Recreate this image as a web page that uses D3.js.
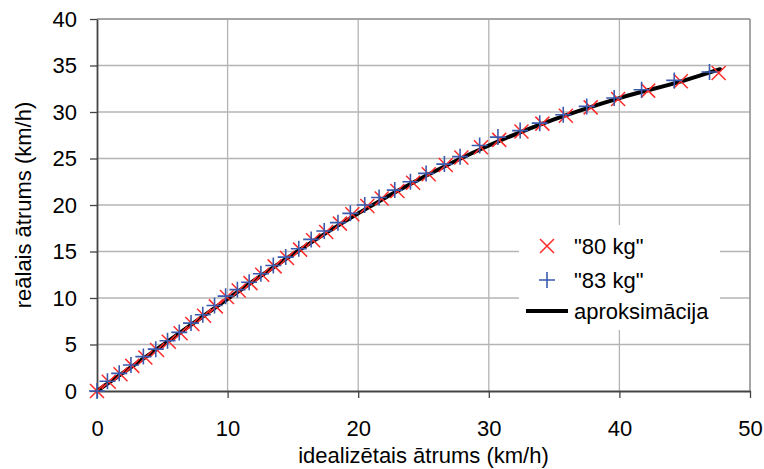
<!DOCTYPE html>
<html>
<head>
<meta charset="utf-8">
<script src="https://cdn.jsdelivr.net/npm/d3@7"></script>
<style>
  body { margin: 0; background: #fff; }
  svg text { font-family: "Liberation Sans", Arial, sans-serif; fill: #000; }
</style>
</head>
<body>
<svg id="chart" width="764" height="469"></svg>
<script>
// "80 kg" series: idealised speed vs real speed
const ideal80 = [0, 0.9, 1.8, 2.7, 3.7, 4.6, 5.5, 6.4, 7.3, 8.2, 9.1, 9.95, 10.85, 11.75, 12.65, 13.6, 14.55, 15.55, 16.55, 17.55, 18.6, 19.55, 20.7, 21.8, 23.0, 24.2, 25.4, 26.7, 27.9, 29.4, 30.8, 32.5, 34.1, 35.9, 37.8, 39.9, 42.2, 44.7, 47.6];
const real80  = [0, 1.0, 1.8, 2.7, 3.6, 4.4, 5.3, 6.2, 7.2, 8.1, 9.1, 10.1, 10.8, 11.6, 12.5, 13.4, 14.3, 15.2, 16.2, 17.1, 18.0, 19.0, 19.9, 20.7, 21.5, 22.4, 23.3, 24.3, 25.1, 26.2, 27.0, 27.9, 28.75, 29.6, 30.5, 31.4, 32.3, 33.3, 34.2];
// "83 kg" series
const ideal83 = [0, 0.8, 1.7, 2.6, 3.55, 4.5, 5.4, 6.3, 7.2, 8.1, 9.0, 9.85, 10.75, 11.65, 12.55, 13.5, 14.45, 15.45, 16.4, 17.4, 18.45, 19.4, 20.5, 21.6, 22.8, 24.0, 25.2, 26.6, 27.8, 29.3, 30.7, 32.4, 33.9, 35.7, 37.5, 39.6, 41.7, 44.2, 46.9];
const real83  = [0, 1.05, 1.9, 2.8, 3.7, 4.5, 5.4, 6.3, 7.3, 8.2, 9.2, 10.2, 10.9, 11.7, 12.6, 13.5, 14.4, 15.3, 16.3, 17.2, 18.1, 19.1, 20.0, 20.8, 21.6, 22.5, 23.4, 24.4, 25.2, 26.4, 27.3, 28.0, 28.8, 29.7, 30.6, 31.5, 32.4, 33.4, 34.3];
// approximation curve
const idealFit = [0, 5, 10, 15, 20, 25, 30, 35, 40, 45, 47.7];
const realFit  = [0, 4.9, 9.9, 14.7, 19.1, 23.0, 26.4, 29.2, 31.5, 33.4, 34.6];

const xTicks = [0, 10, 20, 30, 40, 50];
const yTicks = [0, 5, 10, 15, 20, 25, 30, 35, 40];
const legendLabels = ['"80 kg"', '"83 kg"', "aproksimācija"];

const svg = d3.select("#chart");
const margin = { left: 97, right: 14, top: 19, bottom: 78 };
const width = 764 - margin.left - margin.right,
      height = 469 - margin.top - margin.bottom;
const fs = 22;

const x = d3.scaleLinear().domain([0, 50]).range([0, width]);
const y = d3.scaleLinear().domain([0, 40]).range([height, 0]);

const g = svg.append("g").attr("transform", `translate(${margin.left},${margin.top})`);

// grid
g.append("g").selectAll("line").data(yTicks.slice(1)).join("line")
  .attr("x1", 0).attr("x2", width)
  .attr("y1", d => y(d)).attr("y2", d => y(d))
  .attr("stroke", "#b4b4b4").attr("stroke-width", 1.3);
g.append("g").selectAll("line").data(xTicks.slice(1)).join("line")
  .attr("x1", d => x(d)).attr("x2", d => x(d))
  .attr("y1", 0).attr("y2", height)
  .attr("stroke", "#b4b4b4").attr("stroke-width", 1.3);
g.append("line").attr("x1", 0).attr("x2", width).attr("y1", 0).attr("y2", 0)
  .attr("stroke", "#999").attr("stroke-width", 1.5);
g.append("line").attr("x1", width).attr("x2", width).attr("y1", 0).attr("y2", height)
  .attr("stroke", "#999").attr("stroke-width", 1.5);

// axes
const xAxis = g.append("g").attr("transform", `translate(0,${height})`)
  .call(d3.axisBottom(x).tickValues(xTicks).tickSize(7).tickPadding(22).tickSizeOuter(0));
const yAxis = g.append("g")
  .call(d3.axisLeft(y).tickValues(yTicks).tickSize(7).tickPadding(13).tickSizeOuter(0));
[xAxis, yAxis].forEach(a => {
  a.select(".domain").attr("stroke", "#444").attr("stroke-width", 1.8);
  a.selectAll(".tick line").attr("stroke", "#444").attr("stroke-width", 1.3);
  a.selectAll(".tick text").attr("font-size", fs).attr("font-family", "Liberation Sans, Arial, sans-serif");
});

// approximation line
const fitData = idealFit.map((v, i) => ({ v, r: realFit[i] }));
g.append("path").datum(fitData)
  .attr("fill", "none").attr("stroke", "#000").attr("stroke-width", 4)
  .attr("stroke-linecap", "round")
  .attr("d", d3.line().x(d => x(d.v)).y(d => y(d.r)).curve(d3.curveMonotoneX));

const s = 7;
const d80 = ideal80.map((v, i) => ({ v, r: real80[i] }));
const d83 = ideal83.map((v, i) => ({ v, r: real83[i] }));

function cross(sel, color) {
  sel.append("path").attr("fill", "none").attr("stroke", color).attr("stroke-width", 1.5)
    .attr("d", `M${-s},${-s}L${s},${s}M${-s},${s}L${s},${-s}`);
}
function plus(sel, color) {
  sel.append("path").attr("fill", "none").attr("stroke", color).attr("stroke-width", 1.6)
    .attr("d", `M${-s - 1},0L${s + 1},0M0,${-s - 1}L0,${s + 1}`);
}

g.append("g").selectAll("g").data(d80).join("g")
  .attr("transform", d => `translate(${x(d.v)},${y(d.r)})`)
  .call(cross, "#ff2a2a");
g.append("g").selectAll("g").data(d83).join("g")
  .attr("transform", d => `translate(${x(d.v)},${y(d.r)})`)
  .call(plus, "#3a5aad");

// legend
const lg = svg.append("g");
lg.append("rect").attr("x", 519).attr("y", 225).attr("width", 201).attr("height", 105).attr("fill", "#fff");
const lgRows = [246, 280, 311];
lg.append("g").attr("transform", `translate(547,${lgRows[0]})`).call(cross, "#ff2a2a");
lg.append("g").attr("transform", `translate(547,${lgRows[1]})`).call(plus, "#3a5aad");
lg.append("line").attr("x1", 526).attr("x2", 568).attr("y1", lgRows[2]).attr("y2", lgRows[2])
  .attr("stroke", "#000").attr("stroke-width", 4);
lg.selectAll("text").data(legendLabels).join("text")
  .attr("x", 574).attr("y", (d, i) => lgRows[i]).attr("dy", "0.36em")
  .attr("font-size", fs).text(d => d);

// axis titles
svg.append("text").attr("x", margin.left + width / 2).attr("y", 463)
  .attr("text-anchor", "middle").attr("font-size", fs).text("idealizētais ātrums (km/h)");
svg.append("text").attr("transform", `translate(31,${margin.top + height / 2}) rotate(-90)`)
  .attr("text-anchor", "middle").attr("font-size", fs).text("reālais ātrums (km/h)");
</script>
</body>
</html>
